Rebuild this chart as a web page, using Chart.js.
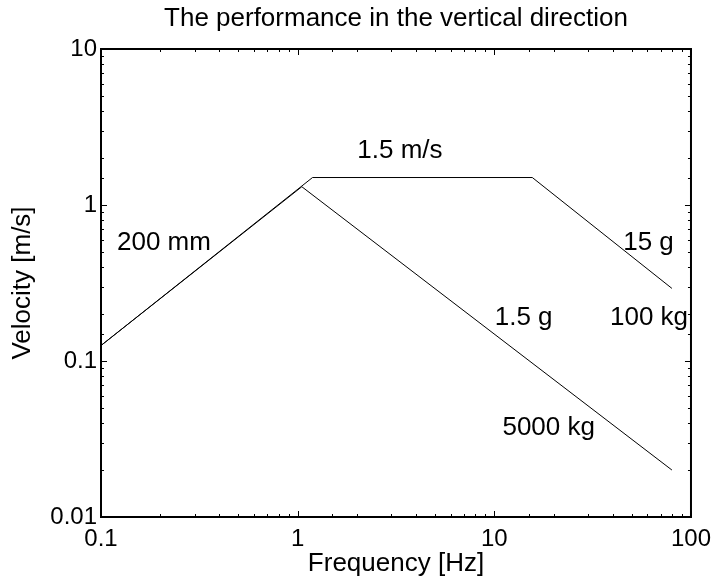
<!DOCTYPE html>
<html>
<head>
<meta charset="utf-8">
<script src="https://cdn.jsdelivr.net/npm/chart.js@4.4.1/dist/chart.umd.min.js"></script>
<style>
  html, body { margin: 0; padding: 0; background: #fff; }
  #wrap { width: 719px; height: 584px; }
</style>
</head>
<body>
<div id="wrap"><canvas id="myChart" width="719" height="584"></canvas></div>
<script>
// frequency [Hz] / velocity [m/s] corner points of the two envelopes
const freq100kg = [0.1, 1.19, 15.6, 80];
const vel100kg = [0.1257, 1.5, 1.5, 0.292];
const freq5000kg = [0.1, 1.05, 80];
const vel5000kg = [0.1257, 1.31, 0.02];

const xTickLabels = ["0.1", "1", "10", "100"];
const yTickLabels = ["0.01", "0.1", "1", "10"];

// text notes inside the plot (data coords of text centre / baseline)
const noteText = ["200 mm", "1.5 m/s", "15 g", "100 kg", "1.5 g", "5000 kg"];
const noteFreq = [0.209, 3.31, 60.8, 61.2, 14.1, 18.9];
const noteVel = [0.517, 2.01, 0.517, 0.171, 0.171, 0.0337];

const fontFamily = "'Liberation Sans', Arial, Helvetica, sans-serif";

function isDecade(v) {
    const e = Math.log10(v);
    return Math.abs(e - Math.round(e)) < 1e-6;
}

function toPoints(xs, ys) {
    return xs.map((x, i) => ({ x: x, y: ys[i] }));
}

// inward tick marks, box frame and the notes
const framePlugin = {
    id: 'frame',
    afterDatasetsDraw(chart) {
        const ctx = chart.ctx;
        const area = chart.chartArea;
        const xs = chart.scales.x;
        const ys = chart.scales.y;
        ctx.save();
        ctx.strokeStyle = '#000';
        ctx.lineWidth = 1;
        xs.ticks.forEach(t => {
            const px = Math.round(xs.getPixelForValue(t.value)) + 0.5;
            const len = isDecade(t.value) ? 6 : 3;
            ctx.beginPath();
            ctx.moveTo(px, area.bottom);
            ctx.lineTo(px, area.bottom - len);
            ctx.moveTo(px, area.top);
            ctx.lineTo(px, area.top + len);
            ctx.stroke();
        });
        ys.ticks.forEach(t => {
            const py = Math.round(ys.getPixelForValue(t.value)) + 0.5;
            const len = isDecade(t.value) ? 6 : 3;
            ctx.beginPath();
            ctx.moveTo(area.left, py);
            ctx.lineTo(area.left + len, py);
            ctx.moveTo(area.right, py);
            ctx.lineTo(area.right - len, py);
            ctx.stroke();
        });
        ctx.lineWidth = 2;
        ctx.strokeRect(area.left, area.top, area.right - area.left, area.bottom - area.top);

        ctx.fillStyle = '#000';
        ctx.font = '26px ' + fontFamily;
        ctx.textAlign = 'center';
        ctx.textBaseline = 'alphabetic';
        noteText.forEach((txt, i) => {
            ctx.fillText(txt, xs.getPixelForValue(noteFreq[i]), ys.getPixelForValue(noteVel[i]));
        });
        ctx.restore();
    }
};

const ctx = document.getElementById('myChart');
const chart = new Chart(ctx, {
    type: 'line',
    data: {
        datasets: [{
            label: '100 kg',
            data: toPoints(freq100kg, vel100kg),
            borderColor: '#000',
            borderWidth: 1,
            pointRadius: 0,
            fill: false,
            tension: 0
        }, {
            label: '5000 kg',
            data: toPoints(freq5000kg, vel5000kg),
            borderColor: '#000',
            borderWidth: 1,
            pointRadius: 0,
            fill: false,
            tension: 0
        }]
    },
    options: {
        responsive: false,
        animation: false,
        layout: { padding: { left: 0, right: 23, top: 0, bottom: 0 } },
        plugins: {
            legend: { display: false },
            tooltip: { enabled: false },
            title: {
                display: true,
                fullSize: false,
                text: 'The performance in the vertical direction',
                color: '#000',
                font: { family: fontFamily, size: 26, weight: 'normal' },
                padding: { top: 3, bottom: 14.8 }
            }
        },
        scales: {
            x: {
                type: 'logarithmic',
                min: 0.1,
                max: 100,
                grid: { display: false, drawTicks: false },
                border: { display: false },
                afterFit: s => { s.height = 67; },
                ticks: {
                    autoSkip: false,
                    maxRotation: 0,
                    padding: 8,
                    color: '#000',
                    font: { family: fontFamily, size: 24 },
                    callback: v => isDecade(v) ? xTickLabels[Math.round(Math.log10(v)) + 1] : ''
                },
                title: {
                    display: true,
                    text: 'Frequency [Hz]',
                    color: '#000',
                    font: { family: fontFamily, size: 26 },
                    padding: { top: 0, bottom: 4.4 }
                }
            },
            y: {
                type: 'logarithmic',
                min: 0.01,
                max: 10,
                grid: { display: false, drawTicks: false },
                border: { display: false },
                afterFit: s => { s.width = 101; },
                ticks: {
                    autoSkip: false,
                    padding: 4,
                    color: '#000',
                    font: { family: fontFamily, size: 24 },
                    callback: v => isDecade(v) ? yTickLabels[Math.round(Math.log10(v)) + 2] : ''
                },
                title: {
                    display: true,
                    text: 'Velocity [m/s]',
                    color: '#000',
                    font: { family: fontFamily, size: 26 },
                    padding: { top: 7, bottom: 0 }
                }
            }
        }
    },
    plugins: [framePlugin]
});
</script>
</body>
</html>
